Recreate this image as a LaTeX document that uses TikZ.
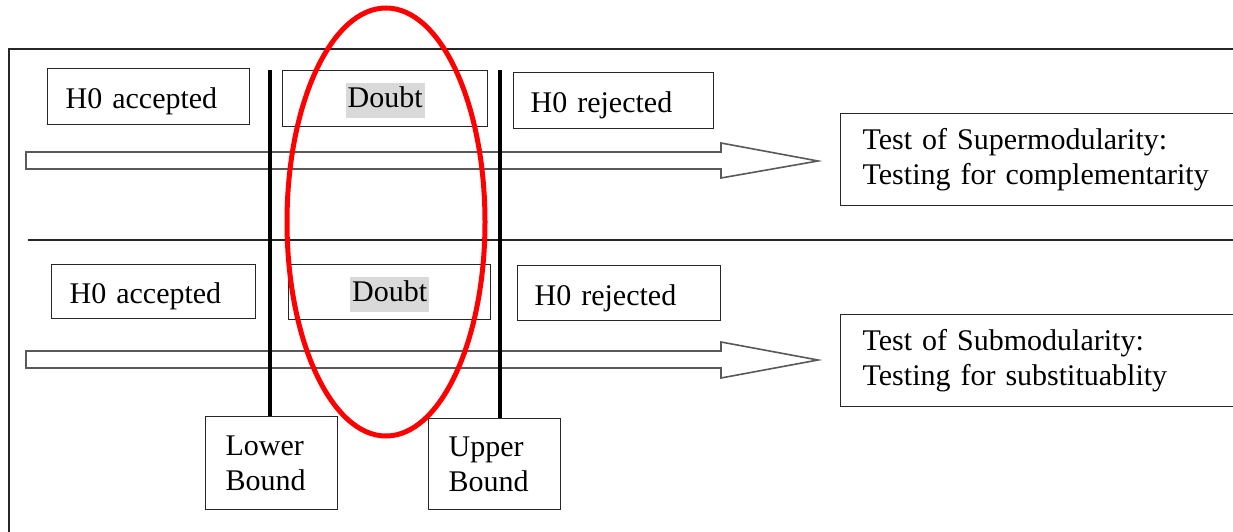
\documentclass[tikz,border=0pt]{standalone}
\usepackage{fontspec}
\setmainfont{Liberation Serif}
\usetikzlibrary{positioning}
\definecolor{hlgray}{HTML}{D9D9D9}
\newcommand{\hl}[1]{{\setlength\fboxsep{0pt}\colorbox{hlgray}{\strut\hspace*{2pt}#1\hspace*{2pt}}}}
\begin{document}
\begin{tikzpicture}[
        x=1pt, y=-1pt,
        font=\fontsize{30}{35}\selectfont,
        box/.style={draw=black!85, line width=1.3pt, anchor=north west, inner ysep=0pt, inner xsep=18pt, align=left},
        onebox/.style={box, text height=24pt, text depth=0pt},
        doubtbox/.style={box, align=center, inner xsep=0pt, text height=22pt, text depth=4pt},
        bigarrow/.style={draw=black!65, line width=1.6pt, fill=white, line join=miter},
        bound/.style={line width=4pt}
    ]
        \useasboundingbox (0,0) rectangle (1233,532);
        \clip (0,0) rectangle (1233,532);
        % frame and divider
        \draw[line width=1.8pt, black!85] (9,560) -- (9,49) -- (1260,49);
        \draw[line width=1.5pt, black!85] (28,240) -- (1260,240);
        % upper test
        \draw[bigarrow] (26,152) -- (721,152) -- (721,143) -- (818,161) -- (721,178) -- (721,169) -- (26,169) -- cycle;
        \node[onebox, text width=166pt, minimum height=56pt] (acc1) at (47,68) {H0 accepted};
        \node[doubtbox, text width=205pt, minimum height=56pt] (doubt1) at (282,70) {\hl{Doubt}};
        \node[onebox, text width=166pt, minimum height=56pt, inner xsep=17pt] (rej1) at (513,72) {H0 rejected};
        \node[box, text width=420pt, minimum height=92pt, inner xsep=22pt] (sup) at (840,113)
            {Test of Supermodularity:\\Testing for complementarity};
        % lower test
        \draw[bigarrow] (26,351) -- (721,351) -- (721,342) -- (818,360) -- (721,378) -- (721,368) -- (26,368) -- cycle;
        \node[onebox, text width=168pt, minimum height=54pt] (acc2) at (51,264) {H0 accepted};
        \node[doubtbox, text width=202pt, minimum height=55pt] (doubt2) at (288,264) {\hl{Doubt}};
        \node[onebox, text width=169pt, minimum height=55pt, inner xsep=17pt] (rej2) at (517,265) {H0 rejected};
        \node[box, text width=420pt, minimum height=92pt, inner xsep=22pt] (sub) at (840,314)
            {Test of Submodularity:\\Testing for substituablity};
        % bounds
        \node[box, text width=92pt, minimum height=93pt, inner xsep=20pt] (lb) at (205,416) {Lower\\Bound};
        \node[box, text width=92pt, minimum height=91pt, inner xsep=20pt] (ub) at (428,418) {Upper\\Bound};
        \coordinate (lbtop) at (270,70);
        \coordinate (ubtop) at (500,70);
        \draw[bound] (lbtop) -- (lbtop |- lb.north);
        \draw[bound] (ubtop) -- (ubtop |- ub.north);
        % doubt region
        \draw[red, line width=5pt] (386,222) ellipse [x radius=99, y radius=214];
    \end{tikzpicture}
\end{document}
